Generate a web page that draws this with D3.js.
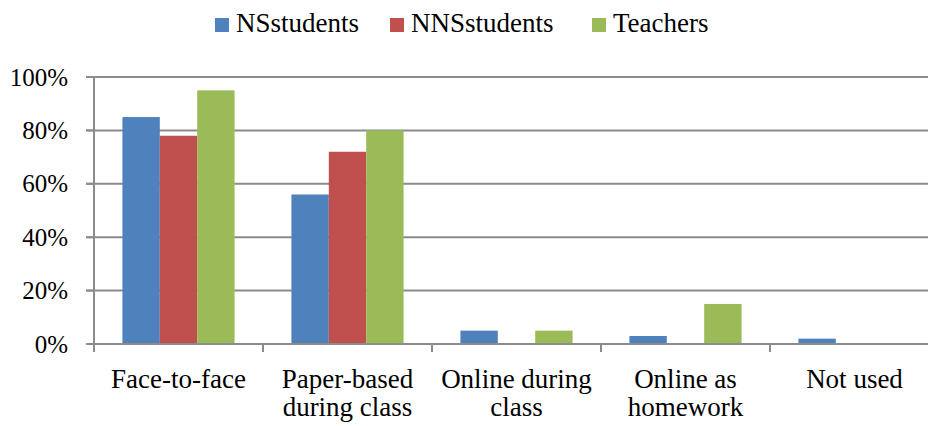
<!DOCTYPE html>
<html><head><meta charset="utf-8"><script src="https://cdn.jsdelivr.net/npm/d3@7"></script></head>
<body style="margin:0">
<svg id="chart" width="928" height="426"></svg>
<script>
// data
var categories = [["Face-to-face"], ["Paper-based", "during class"], ["Online during", "class"], ["Online as", "homework"], ["Not used"]];
var seriesNames = ["NSstudents", "NNSstudents", "Teachers"];
var nsStudents = [0.85, 0.56, 0.05, 0.03, 0.02];
var nnsStudents = [0.78, 0.72, 0, 0, 0];
var teachers = [0.95, 0.80, 0.05, 0.15, 0];
var yTicks = [0, 0.2, 0.4, 0.6, 0.8, 1.0];

var colors = ["#4F81BD", "#C0504D", "#9BBB59"];
var seriesValues = [nsStudents, nnsStudents, teachers];
var fontFam = "Liberation Serif, Tinos, Times New Roman, serif";

var width = 928, height = 426;
var plotLeft = 94, plotRight = 939, plotTop = 77, plotBottom = 344;

var svg = d3.select("#chart");

var x = d3.scaleBand()
	.domain(d3.range(categories.length))
	.range([plotLeft, plotRight]);

var xInner = d3.scaleBand()
	.domain(d3.range(seriesNames.length))
	.range([0, x.bandwidth()])
	.paddingOuter(0.76);

var y = d3.scaleLinear()
	.domain([0, 1])
	.range([plotBottom, plotTop]);

/* ------- GRID -------*/
svg.append("g")
	.selectAll("line")
	.data(yTicks.slice(1))
	.enter()
	.append("line")
	.attr("x1", plotLeft - 8)
	.attr("x2", width)
	.attr("y1", function(d) { return y(d); })
	.attr("y2", function(d) { return y(d); })
	.attr("stroke", "#8c8c8c")
	.attr("stroke-width", 2);

/* ------- BARS -------*/
var groups = svg.append("g")
	.selectAll("g")
	.data(categories)
	.enter()
	.append("g")
	.attr("transform", function(d, i) { return "translate(" + x(i) + ",0)"; });

groups.selectAll("rect")
	.data(function(d, i) {
		return seriesValues.map(function(s, j) { return {s: j, v: s[i]}; })
			.filter(function(d) { return d.v > 0; });
	})
	.enter()
	.append("rect")
	.attr("x", function(d) { return xInner(d.s); })
	.attr("width", xInner.bandwidth())
	.attr("y", function(d) { return y(d.v); })
	.attr("height", function(d) { return y(0) - y(d.v); })
	.attr("fill", function(d) { return colors[d.s]; });

/* ------- AXES (lines only) -------*/
svg.append("path")
	.attr("d", "M" + plotLeft + "," + (plotBottom + 8) + "V" + plotTop)
	.attr("stroke", "#8c8c8c").attr("stroke-width", 2).attr("fill", "none");
svg.append("path")
	.attr("d", "M" + (plotLeft - 8) + "," + plotBottom + "H" + width)
	.attr("stroke", "#8c8c8c").attr("stroke-width", 2).attr("fill", "none");

// y tick marks
svg.append("g")
	.selectAll("line")
	.data(yTicks)
	.enter()
	.append("line")
	.attr("x1", plotLeft - 8)
	.attr("x2", plotLeft)
	.attr("y1", function(d) { return y(d); })
	.attr("y2", function(d) { return y(d); })
	.attr("stroke", "#8c8c8c")
	.attr("stroke-width", 2);

// category ticks at band edges
svg.append("g")
	.selectAll("line")
	.data(d3.range(categories.length + 1))
	.enter()
	.append("line")
	.attr("x1", function(d) { return plotLeft + d * x.bandwidth(); })
	.attr("x2", function(d) { return plotLeft + d * x.bandwidth(); })
	.attr("y1", plotBottom)
	.attr("y2", plotBottom + 8)
	.attr("stroke", "#8c8c8c")
	.attr("stroke-width", 2);

/* ------- TEXTS -------*/
var fmt = d3.format(".0%");
svg.selectAll("text.ytick")
	.data(yTicks)
	.enter()
	.append("text")
	.attr("class", "ytick")
	.attr("x", plotLeft - 26)
	.attr("y", function(d) { return y(d) + 8.5; })
	.attr("text-anchor", "end")
	.attr("font-size", 25)
	.attr("font-family", fontFam)
	.text(function(d) { return fmt(d); });

var labelLines = [];
categories.forEach(function(lines, i) {
	lines.forEach(function(t, j) { labelLines.push({i: i, j: j, t: t}); });
});
svg.selectAll("text.cat")
	.data(labelLines)
	.enter()
	.append("text")
	.attr("class", "cat")
	.attr("text-anchor", "middle")
	.attr("font-size", 27)
	.attr("font-family", fontFam)
	.attr("x", function(d) { return x(d.i) + x.bandwidth() / 2; })
	.attr("y", function(d) { return 388 + d.j * 28; })
	.text(function(d) { return d.t; });

/* ------- LEGEND -------*/
var legendX = [215, 390, 592];
svg.selectAll("rect.key")
	.data(seriesNames)
	.enter()
	.append("rect")
	.attr("class", "key")
	.attr("x", function(d, i) { return legendX[i]; })
	.attr("y", 18)
	.attr("width", 14)
	.attr("height", 14)
	.attr("fill", function(d, i) { return colors[i]; });

svg.selectAll("text.key")
	.data(seriesNames)
	.enter()
	.append("text")
	.attr("class", "key")
	.attr("x", function(d, i) { return legendX[i] + 21; })
	.attr("y", 32)
	.attr("font-size", 27)
	.attr("font-family", fontFam)
	.text(function(d) { return d; });
</script>
</body>
</html>
